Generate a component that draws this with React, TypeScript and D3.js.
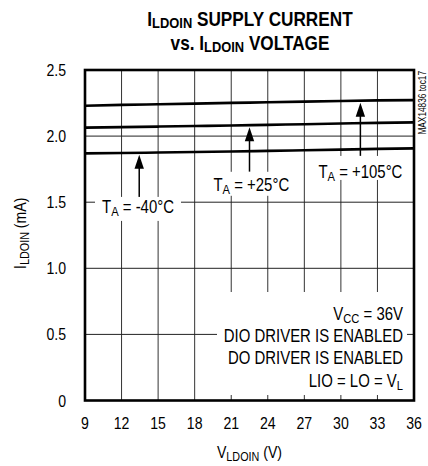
import React from 'react'
import * as d3 from 'd3'

// supply voltage (V) sample points
const voltages = [9, 12, 15, 18, 21, 24, 27, 30, 33, 36]
// supply current (mA) per temperature
const currentM40 = [1.869, 1.872, 1.876, 1.880, 1.884, 1.888, 1.893, 1.898, 1.903, 1.907]
const current25 = [2.064, 2.068, 2.072, 2.076, 2.080, 2.085, 2.090, 2.095, 2.100, 2.104]
const current105 = [2.230, 2.236, 2.241, 2.246, 2.251, 2.256, 2.261, 2.266, 2.270, 2.272]

const xTicks = [9, 12, 15, 18, 21, 24, 27, 30, 33, 36]
const yTicks = [0, 0.5, 1.0, 1.5, 2.0, 2.5]
const tempLabels = ['-40°C', '+25°C', '+105°C']
const noteLines = ['V_CC = 36V', 'DIO DRIVER IS ENABLED', 'DO DRIVER IS ENABLED', 'LIO = LO = V_L']

const FONT = '"Liberation Sans", Arial, sans-serif'
const NARROW = 0.83

const width = 428
const height = 466
const margin = { top: 70, right: 14, bottom: 65.5, left: 85 }

// renders "X_SUB rest" as text with a subscript
const Sub = ({ text, size }: { text: string; size: number }) => {
  const m = text.match(/^([^_]*)_(\w+)(.*)$/)
  if (!m) return <>{text}</>
  return (
    <>
      <tspan>{m[1]}</tspan>
      <tspan fontSize={size * 0.75} dy={size * 0.18}>{m[2]}</tspan>
      <tspan dy={-size * 0.18}>{m[3]}</tspan>
    </>
  )
}

// horizontally condensed text (no narrow font installed)
const NText = ({ x, y, rotate = 0, sx = NARROW, children, ...rest }: any) => (
  <g transform={`translate(${x},${y}) rotate(${rotate}) scale(${sx},1)`}>
    <text x={0} y={0} {...rest}>{children}</text>
  </g>
)

export default function App() {
  const innerW = width - margin.left - margin.right
  const innerH = height - margin.top - margin.bottom
  const x = d3.scaleLinear().domain([9, 36]).range([margin.left, margin.left + innerW])
  const y = d3.scaleLinear().domain([0, 2.5]).range([margin.top + innerH, margin.top])

  const series = [currentM40, current25, current105]
  const line = d3.line<number>()
    .x((_, i) => x(voltages[i]))
    .y(d => y(d))
    .curve(d3.curveMonotoneX)

  const interp = (s: number[], v: number) => {
    const i = Math.min(voltages.length - 2, Math.floor((v - 9) / 3))
    const t = (v - voltages[i]) / 3
    return s[i] + (s[i + 1] - s[i]) * t
  }

  // arrow annotations in data units
  const arrows = [
    { v: 13.45, bottom: 1.54, labelV: 13.35, labelY: 1.42, boxW: 86 },
    { v: 22.5, bottom: 1.73, labelV: 22.65, labelY: 1.585, boxW: 86 },
    { v: 31.6, bottom: 1.85, labelV: 31.6, labelY: 1.685, boxW: 94 },
  ]

  const fs = 18
  const bottom = margin.top + innerH

  return (
    <svg width={width} height={height} style={{ position: 'fixed', left: 0, top: 0, background: '#fff' }}
      fontFamily={FONT}>
      <rect width={width} height={height} fill="#fff" />
      {/* title */}
      <NText x={250} y={26} sx={0.86} textAnchor="middle" fontSize={20} fontWeight="bold">
        <tspan>I</tspan>
        <tspan fontSize={15} dy={2}>LDOIN</tspan>
        <tspan dy={-2}> SUPPLY CURRENT</tspan>
      </NText>
      <NText x={250} y={50} sx={0.86} textAnchor="middle" fontSize={20} fontWeight="bold">
        <tspan>vs. I</tspan>
        <tspan fontSize={15} dy={2}>LDOIN</tspan>
        <tspan dy={-2}> VOLTAGE</tspan>
      </NText>

      {/* grid */}
      {xTicks.slice(1, -1).map(t => (
        <line key={'gx' + t} x1={x(t)} x2={x(t)} y1={margin.top} y2={bottom} stroke="#333" strokeWidth={1} />
      ))}
      {yTicks.slice(1, -1).map(t => (
        <line key={'gy' + t} x1={margin.left} x2={margin.left + innerW} y1={y(t)} y2={y(t)} stroke="#222" strokeWidth={1} />
      ))}

      {/* curves */}
      {series.map((s, i) => (
        <path key={i} d={line(s) || ''} fill="none" stroke="#000" strokeWidth={2.6} />
      ))}

      {/* arrows + labels */}
      {arrows.map((a, i) => {
        const ax = x(a.v)
        const tip = y(interp(series[i], a.v)) + 2
        const sb = y(a.bottom)
        const lx = x(a.labelV)
        const ly = y(a.labelY)
        return (
          <g key={'a' + i}>
            <line x1={ax} x2={ax} y1={tip + 10} y2={sb} stroke="#000" strokeWidth={1.5} />
            <path d={`M${ax},${tip} L${ax - 4.7},${tip + 14} L${ax + 4.7},${tip + 14} Z`} fill="#000" />
            <rect x={lx - a.boxW / 2} y={sb} width={a.boxW} height={24} fill="#fff" />
            <NText x={lx} y={ly} textAnchor="middle" fontSize={fs}>
              <Sub text={'T_A = ' + tempLabels[i]} size={fs} />
            </NText>
          </g>
        )
      })}

      {/* conditions note */}
      <rect x={217} y={292} width={190} height={103} fill="#fff" />
      {noteLines.map((t, i) => (
        <NText key={'n' + i} x={403} y={320 + i * 22.2} textAnchor="end" fontSize={fs}>
          <Sub text={t} size={fs} />
        </NText>
      ))}

      {/* frame */}
      <rect x={margin.left} y={margin.top} width={innerW} height={innerH} fill="none" stroke="#000" strokeWidth={2.6} />

      {/* axes labels */}
      {xTicks.map(t => (
        <NText key={'xt' + t} x={x(t)} y={429} textAnchor="middle" fontSize={17}>{t}</NText>
      ))}
      {yTicks.map(t => (
        <NText key={'yt' + t} x={66} y={y(t) + 6} textAnchor="end" fontSize={17}>
          {t === 0 ? '0' : t.toFixed(1)}
        </NText>
      ))}
      <NText x={x(22.5)} y={458} textAnchor="middle" fontSize={17}>
        <tspan>V</tspan>
        <tspan fontSize={13} dy={3}>LDOIN</tspan>
        <tspan dy={-3}> (V)</tspan>
      </NText>
      <NText x={26} y={(margin.top + bottom) / 2 - 2} rotate={-90} textAnchor="middle" fontSize={17}>
        <tspan>I</tspan>
        <tspan fontSize={13} dy={3}>LDOIN</tspan>
        <tspan dy={-3}> (mA)</tspan>
      </NText>
      <NText x={426} y={71} rotate={-90} textAnchor="end" fontSize={10}>MAX14836 toc17</NText>
    </svg>
  )
}
